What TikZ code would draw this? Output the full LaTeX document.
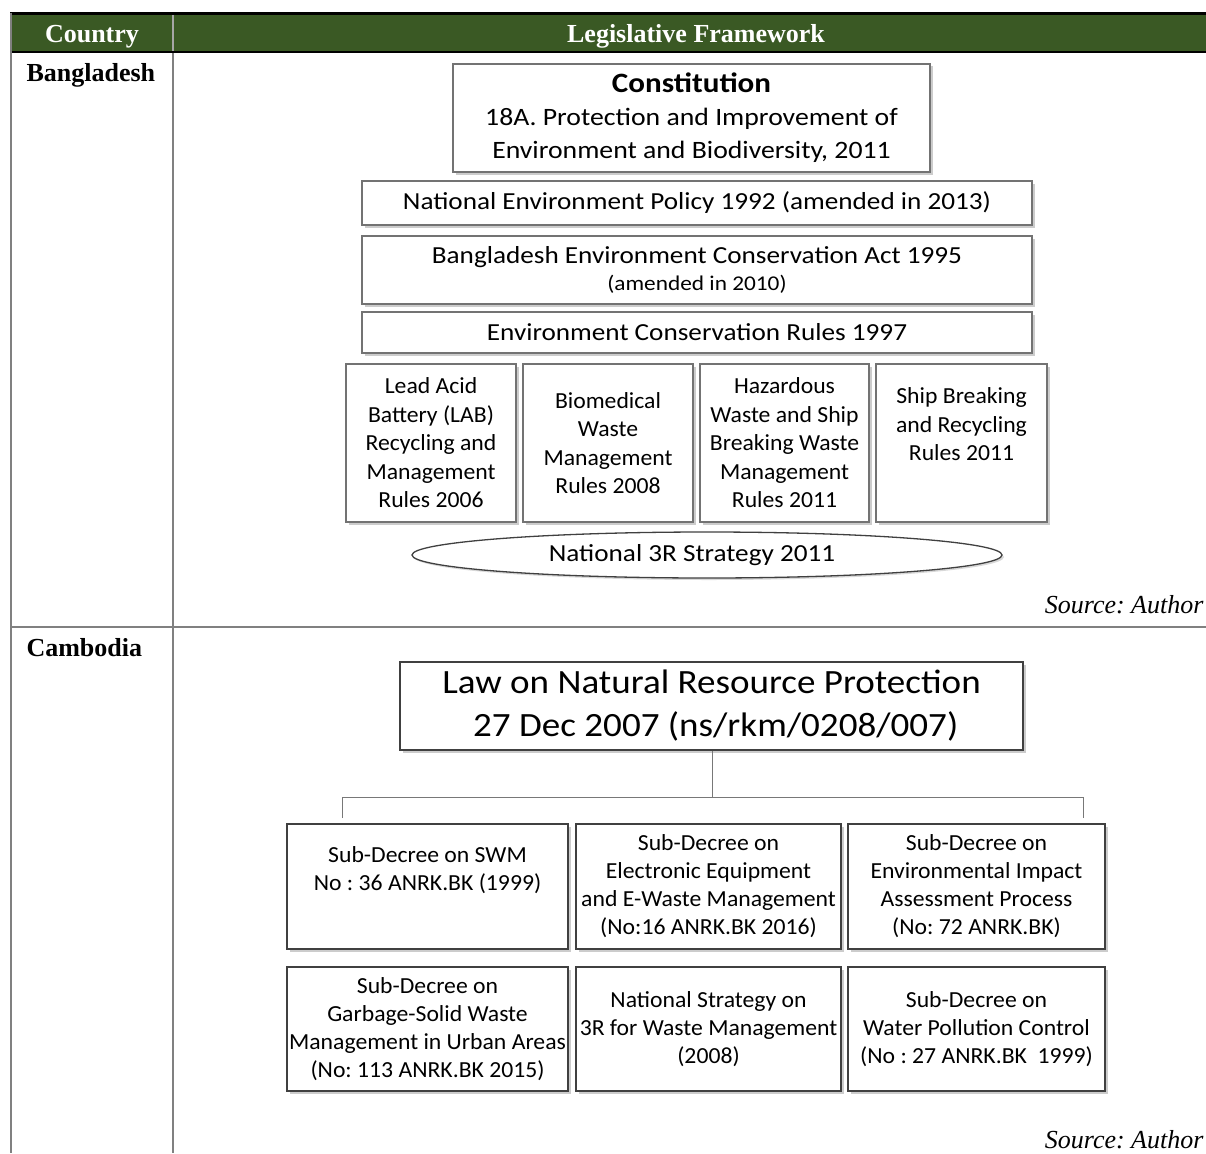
\documentclass[tikz,border=0pt]{standalone}
\usepackage{fontspec}
\setmainfont{Liberation Serif}
\newfontfamily\carl{Carlito}[FakeStretch=1.03]
\newfontfamily\carlw{Carlito}[FakeStretch=1.11]
\newfontfamily\carll{Carlito}[FakeStretch=1.09]
\usetikzlibrary{shapes.geometric,shadows}
\definecolor{hdrgreen}{RGB}{58,89,36}
\definecolor{rulegray}{RGB}{128,128,128}
\definecolor{boxgray}{RGB}{115,115,115}
\definecolor{boxdark}{RGB}{64,64,64}
\definecolor{linkgray}{RGB}{120,120,120}
\frenchspacing

\begin{document}
\begin{tikzpicture}[x=1pt,y=-1pt,
  bdbox/.style={draw=boxgray, line width=2pt, fill=white, inner sep=0pt,
    align=center, font=\carl\fontsize{23}{28.5}\selectfont,
    drop shadow={shadow xshift=2.5pt, shadow yshift=-2.5pt, fill=black!40, opacity=0.5}},
  widebox/.style={bdbox, font=\carlw\fontsize{24.5}{30}\selectfont},
  khbox/.style={draw=boxdark, line width=1.2pt, fill=white, inner sep=0pt,
    align=center, font=\carl\fontsize{23}{28}\selectfont,
    drop shadow={shadow xshift=2.5pt, shadow yshift=-2.5pt, fill=black!40, opacity=0.5}},
  hdr/.style={text=white, font=\bfseries\fontsize{26}{30}\selectfont, anchor=base},
  country/.style={font=\bfseries\fontsize{26}{30}\selectfont, anchor=base west},
  source/.style={font=\itshape\fontsize{26}{30}\selectfont, anchor=base east},
  link/.style={draw=linkgray, line width=1pt}
]
\useasboundingbox (0,0) rectangle (1206,1153);

% ---- table frame ----
\fill[hdrgreen] (11,14) rectangle (1206,52);
\draw[black, line width=3pt] (10,14) -- (1206,14);
\draw[black, line width=2pt] (10,52) -- (1206,52);
\draw[rulegray, line width=2pt] (11,13) -- (11,1153);
\draw[rulegray!70, line width=1.5pt] (173,15) -- (173,51);
\draw[rulegray, line width=2pt] (173,53) -- (173,1153);
\draw[rulegray, line width=2pt] (11,627) -- (1206,627);

\node[hdr] (hcountry) at (92,43) {Country};
\node[hdr] (hframe) at (696,43) {Legislative Framework};
\node[country] (bgd) at (23,82) {Bangladesh};
\node[country] (khm) at (23,656) {Cambodia};
\node[source] (src1) at (1207,613) {Source: Author};
\node[source] (src2) at (1207,1148) {Source: Author};

% ---- Bangladesh ----
\node[widebox, minimum width=477, minimum height=108,
  font=\carlw\fontsize{25}{33}\selectfont] (con) at (691.5,118)
  {{\bfseries\fontsize{28}{33}\selectfont Constitution}\\18A. Protection and Improvement of\\Environment and Biodiversity, 2011};
\node[widebox, minimum width=670, minimum height=44] (nep) at (697,203)
  {National Environment Policy 1992 (amended in 2013)};
\node[widebox, minimum width=670, minimum height=68] (beca) at (697,270)
  {Bangladesh Environment Conservation Act 1995\\[-3pt]{\fontsize{21}{24}\selectfont (amended in 2010)}};
\node[widebox, minimum width=670, minimum height=41] (ecr) at (697,332.5)
  {Environment Conservation Rules 1997};

\node[bdbox, minimum width=170, minimum height=158] (lab) at (431,443)
  {Lead Acid\\Battery (LAB)\\Recycling and\\Management\\Rules 2006};
\node[bdbox, minimum width=170, minimum height=158] (bio) at (608,443)
  {Biomedical\\Waste\\Management\\Rules 2008};
\node[bdbox, minimum width=169, minimum height=158] (haz) at (784.5,443)
  {Hazardous\\Waste and Ship\\Breaking Waste\\Management\\Rules 2011};
\node[bdbox, minimum width=171, minimum height=158] (ship) at (961.5,443)
  {Ship Breaking\\and Recycling\\Rules 2011\\\strut};

\node[ellipse, draw=black!75, line width=1.3pt, fill=white, inner sep=0pt,
  minimum width=590, minimum height=46,
  drop shadow={shadow xshift=2pt, shadow yshift=-2pt, fill=black!30, opacity=0.5}] (rrr) at (707,555) {};
\node[font=\carlw\fontsize{24.5}{30}\selectfont] (rrrtext) at (692,555) {National 3R Strategy 2011};

% ---- Cambodia ----
\node[khbox, minimum width=623, minimum height=88,
  font=\carll\fontsize{34}{43}\selectfont] (law) at (711.5,706)
  {Law on Natural Resource Protection\\\ 27 Dec 2007 (ns/rkm/0208/007)};

\node[khbox, minimum width=281, minimum height=125] (swm) at (427.5,886.5)
  {Sub-Decree on SWM\\No : 36 ANRK.BK (1999)\\\strut};
\node[khbox, minimum width=265, minimum height=125] (ewaste) at (708.5,886.5)
  {Sub-Decree on\\Electronic Equipment\\and E-Waste Management\\(No:16 ANRK.BK 2016)};
\node[khbox, minimum width=257, minimum height=125] (eia) at (976.5,886.5)
  {Sub-Decree on\\Environmental Impact\\Assessment Process\\(No: 72 ANRK.BK)};

\node[khbox, minimum width=281, minimum height=124] (garb) at (427.5,1029)
  {Sub-Decree on\\Garbage-Solid Waste\\Management in Urban Areas\\(No: 113 ANRK.BK 2015)};
\node[khbox, minimum width=265, minimum height=124] (strat) at (708.5,1029)
  {National Strategy on\\3R for Waste Management\\(2008)};
\node[khbox, minimum width=257, minimum height=124] (water) at (976.5,1029)
  {Sub-Decree on\\Water Pollution Control\\(No : 27 ANRK.BK\ \ 1999)};

% bracket from the law down to the decrees
\coordinate (hub) at (712,797);
\coordinate (lefttop) at (342,797);
\coordinate (leftend) at (342,818);
\coordinate (righttop) at (1083,797);
\coordinate (rightend) at (1083,818);
\draw[link] (law.south -| hub) -- (hub);
\draw[link] (leftend) -- (lefttop) -- (righttop) -- (rightend);
\end{tikzpicture}
\end{document}
